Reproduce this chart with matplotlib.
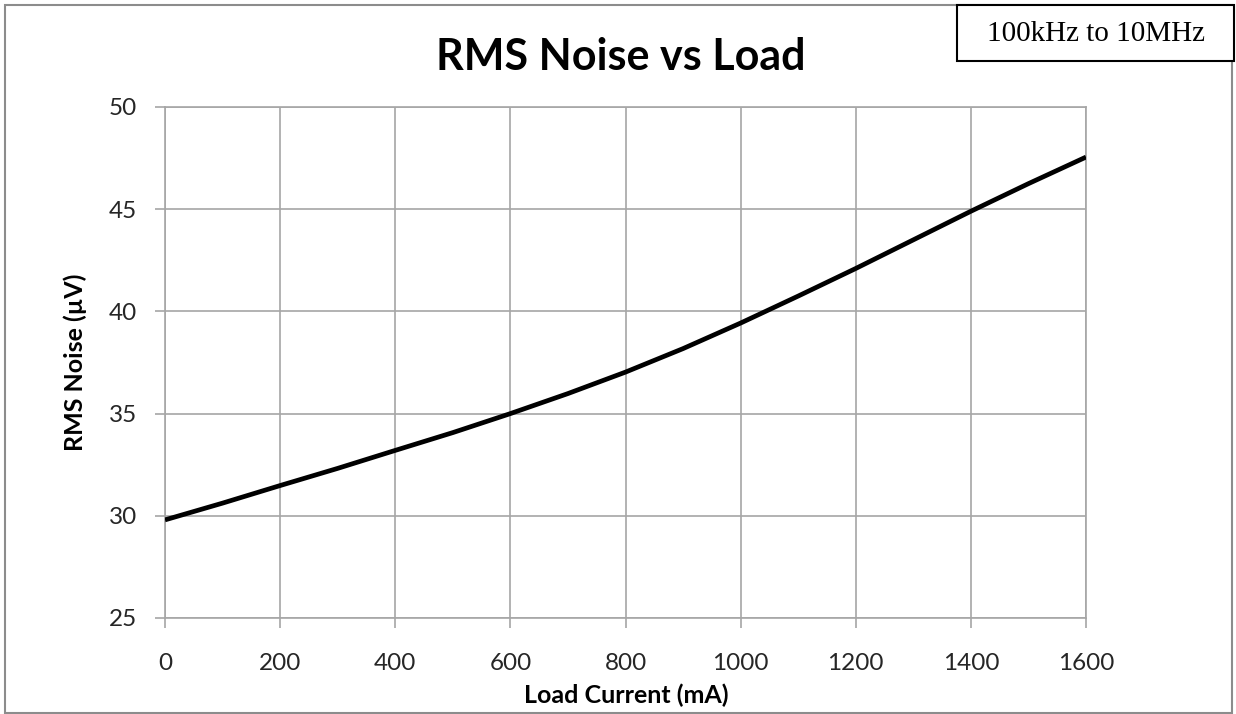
import matplotlib
matplotlib.use("Agg")
import matplotlib.pyplot as plt
from matplotlib.patches import Rectangle

load_ma = [0, 100, 200, 300, 400, 500, 600, 700, 800, 900, 1000, 1100, 1200, 1300, 1400, 1500, 1600]
noise_uv = [29.8, 30.62, 31.48, 32.32, 33.2, 34.07, 35.0, 35.98, 37.03, 38.18, 39.43, 40.75, 42.1, 43.5, 44.9, 46.25, 47.55]
x_ticks = [0, 200, 400, 600, 800, 1000, 1200, 1400, 1600]
y_ticks = [25, 30, 35, 40, 45, 50]

W, H = 1236, 714
fig = plt.figure(figsize=(W / 100, H / 100), dpi=100)
fig.patch.set_facecolor("white")

ax = fig.add_axes([165 / W, 1 - 618 / H, (1086 - 165) / W, (618 - 107) / H])
ax.plot(load_ma, noise_uv, color="black", lw=3.4, solid_capstyle="butt", zorder=3)
ax.set_xlim(0, 1600)
ax.set_ylim(25, 50)
ax.set_xticks(x_ticks)
ax.set_yticks(y_ticks)
grid_c = "#a6a6a6"
ax.grid(True, color=grid_c, lw=1.2)
for s in ax.spines.values():
    s.set_color(grid_c)
    s.set_linewidth(1.2)
ax.tick_params(axis="both", colors=grid_c, length=7, width=1.2, direction="out",
               labelcolor="#262626", labelsize=17.5)
ax.tick_params(axis="x", pad=18)
ax.tick_params(axis="y", pad=13)
for lab in ax.get_xticklabels() + ax.get_yticklabels():
    lab.set_family("Lato")

fig.text(626 / W, 1 - 695 / H, "Load Current (mA)", ha="center", va="center",
         fontsize=18, fontweight="bold", family="Lato")
fig.text(75 / W, 1 - 362 / H, "RMS Noise (µV)", ha="center", va="center", rotation=90,
         fontsize=18, fontweight="bold", family="Lato")
fig.text(621 / W, 1 - 57 / H, "RMS Noise vs Load", ha="center", va="center",
         fontsize=31, fontweight="bold", family="Lato")

# outer chart border
fig.add_artist(Rectangle((5 / W, 1 - 713 / H), (1232 - 5) / W, (713 - 5) / H,
                         transform=fig.transFigure, fill=False, ec="#8c8c8c", lw=1.5))
# annotation box
fig.add_artist(Rectangle((957 / W, 1 - 61 / H), (1234 - 957) / W, (61 - 5) / H,
                         transform=fig.transFigure, fc="white", ec="black", lw=1.5, zorder=5))
fig.text(1096 / W, 1 - 34 / H, "100kHz to 10MHz", ha="center", va="center",
         fontsize=21, family="Liberation Serif", zorder=6)

fig.savefig("out.png", dpi=100, facecolor="white")
